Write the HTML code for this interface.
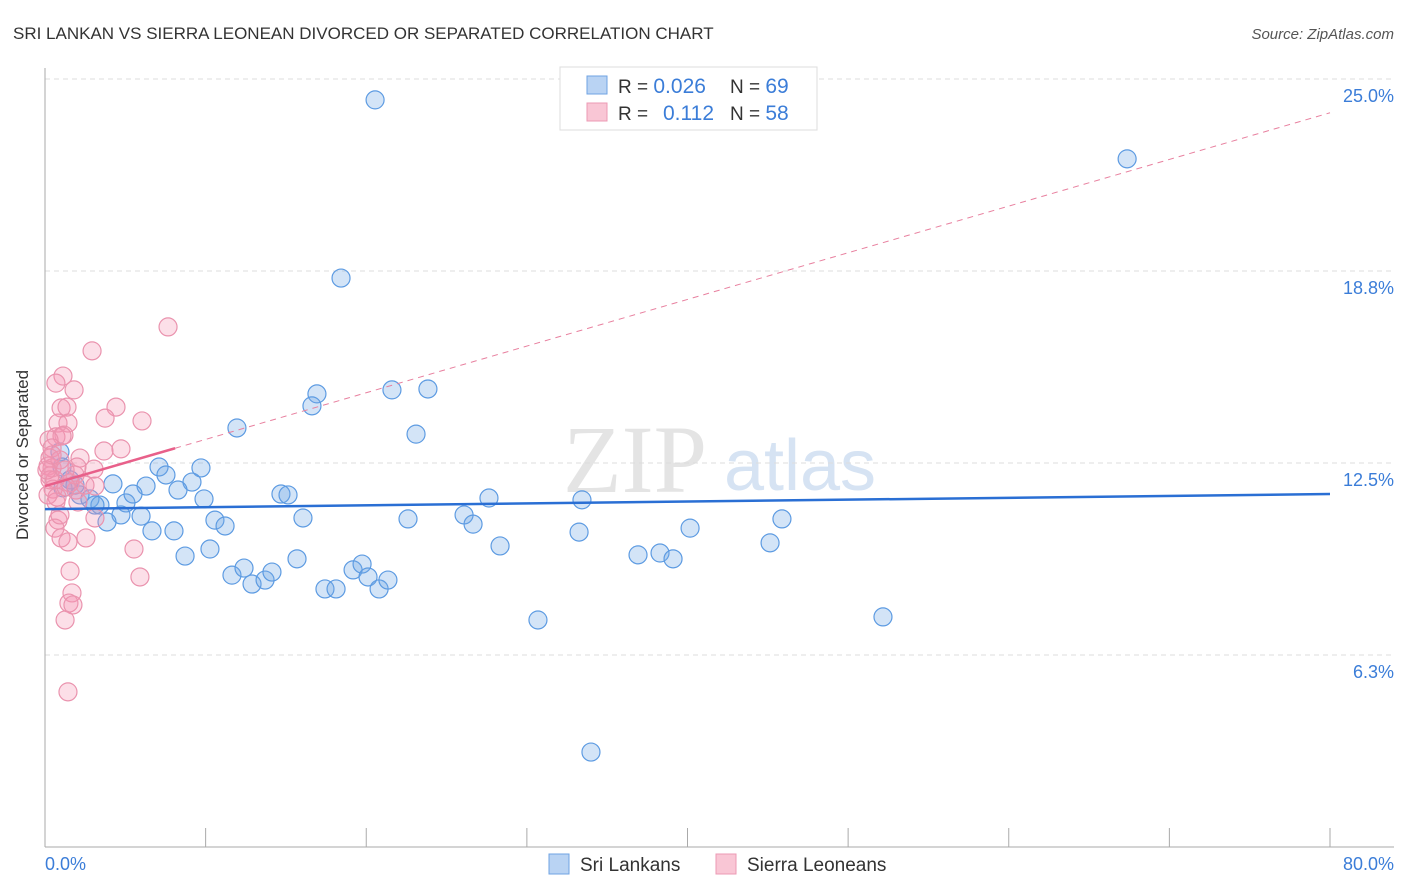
<!DOCTYPE html>
<html><head><meta charset="utf-8"><style>
body{margin:0;background:#fff;font-family:"Liberation Sans",sans-serif;}
svg{display:block}
</style></head><body>
<svg id="chart" width="1406" height="892">
<text x="13" y="39" font-size="17" fill="#333">SRI LANKAN VS SIERRA LEONEAN DIVORCED OR SEPARATED CORRELATION CHART</text>
<text x="1394" y="39" font-size="15" fill="#555" text-anchor="end" font-style="italic">Source: ZipAtlas.com</text>
<g id="watermark">
<text x="635" y="492" font-size="96" fill="#e4e4e4" font-family="Liberation Serif,serif" text-anchor="middle">ZIP</text>
<text x="800" y="490" font-size="72" fill="#d6e3f3" text-anchor="middle">atlas</text>
</g>
<g id="grid"></g><g id="axes"></g><g id="points"></g><g id="lines"></g>
<text x="28" y="455" font-size="17" fill="#333" text-anchor="middle" transform="rotate(-90 28 455)">Divorced or Separated</text>
<text x="45" y="870" font-size="18" fill="#3b7dd8">0.0%</text>
<text x="1394" y="870" font-size="18" fill="#3b7dd8" text-anchor="end">80.0%</text>
<g>
<rect x="560" y="67" width="257" height="63" fill="#fff" stroke="#ddd"/>
<rect x="587" y="76" width="20" height="18" fill="#b9d3f3" stroke="#6fa3e3"/>
<rect x="587" y="103" width="20" height="18" fill="#f9c6d5" stroke="#ec9ab4"/>
<text x="618" y="93" font-size="19" fill="#333">R = <tspan fill="#3b7dd8" font-size="21">0.026</tspan><tspan x="730">N = </tspan><tspan fill="#3b7dd8" font-size="21">69</tspan></text>
<text x="618" y="120" font-size="19" fill="#333">R = <tspan x="663" fill="#3b7dd8" font-size="21">0.112</tspan><tspan x="730">N = </tspan><tspan fill="#3b7dd8" font-size="21">58</tspan></text>
</g>
<g>
<rect x="549" y="854" width="20" height="20" fill="#b9d3f3" stroke="#6fa3e3"/>
<text x="580" y="871" font-size="19" fill="#333">Sri Lankans</text>
<rect x="716" y="854" width="20" height="20" fill="#f9c6d5" stroke="#ec9ab4"/>
<text x="747" y="871" font-size="19" fill="#333">Sierra Leoneans</text>
</g>
</svg>
<script>
const yTicks=[25,18.75,12.5,6.25];
const yTickLabels=["25.0%","18.8%","12.5%","6.3%"];
const xTicks=[10,20,30,40,50,60,70,80];
const blueX=[20.55,67.37,18.43,21.60,23.84,16.93,16.62,23.10,11.95,7.10,7.53,9.71,9.15,8.28,6.29,4.23,0.93,1.06,1.12,2.18,2.80,3.42,5.04,5.48,4.73,3.86,5.98,6.66,8.03,9.90,10.58,11.21,14.69,15.13,16.06,8.72,10.27,11.64,12.39,12.89,13.70,14.13,15.69,17.43,18.12,19.18,19.74,20.11,20.80,21.35,22.60,26.09,26.65,27.64,28.33,30.69,33.25,33.43,33.99,36.92,38.29,39.10,40.16,45.14,45.88,52.17,1.56,1.87,3.11];
const blueY=[24.32,22.40,18.52,14.88,14.91,14.75,14.36,13.44,13.64,12.37,12.11,12.34,11.88,11.62,11.75,11.82,12.86,12.37,11.69,11.46,11.33,11.13,11.20,11.49,10.81,10.58,10.77,10.29,10.29,11.33,10.64,10.45,11.49,11.46,10.71,9.47,9.70,8.85,9.08,8.56,8.69,8.95,9.38,8.40,8.40,9.02,9.21,8.79,8.40,8.69,10.68,10.81,10.51,11.36,9.80,7.39,10.25,11.30,3.09,9.51,9.57,9.38,10.38,9.90,10.68,7.49,11.95,11.78,11.13];
const pinkX=[7.66,2.93,1.12,0.68,1.81,1.00,1.37,4.42,3.74,6.04,0.81,1.43,1.18,0.68,1.06,0.25,0.44,4.73,3.67,0.31,2.18,3.05,1.99,0.19,0.44,0.31,0.62,0.50,1.56,3.11,1.93,2.05,0.68,3.11,0.81,0.62,1.00,2.55,1.43,5.54,5.91,1.56,1.68,1.49,1.74,1.25,1.43,0.31,0.19,0.93,1.87,2.49,0.12,0.44,1.25,0.75,0.93,1.31];
const pinkY=[16.93,16.15,15.33,15.10,14.88,14.29,14.32,14.32,13.96,13.87,13.80,13.80,13.41,13.35,13.38,13.25,12.99,12.96,12.89,12.66,12.66,12.30,12.37,12.40,12.34,12.08,11.95,11.65,11.85,11.75,11.62,11.23,11.23,10.71,10.64,10.38,10.06,10.06,9.93,9.70,8.79,8.98,8.27,7.94,7.88,7.39,5.05,11.95,11.46,12.60,12.11,11.78,12.27,12.76,12.27,11.39,10.81,11.72];
const blueTrend=[11.0,11.49];
const pinkTrend=[11.75,23.9];
const pinkSolidEnd=8.1;
const NS="http://www.w3.org/2000/svg";
const sx=v=>45+v*(1285/80);
const sy=v=>847-v*(768/25);
function mk(tag,attrs,parent){const e=document.createElementNS(NS,tag);for(const k in attrs)e.setAttribute(k,attrs[k]);parent.appendChild(e);return e;}
const grid=document.getElementById('grid'),axes=document.getElementById('axes'),pts=document.getElementById('points'),lines=document.getElementById('lines');
yTicks.forEach((t,i)=>{
 const l=mk('line',{x1:45,x2:1394,y1:sy(t),y2:sy(t),stroke:'#ddd','stroke-dasharray':'5,4'},grid);
 
 
 const tx=mk('text',{x:1394,y:sy(t)+23,'font-size':18,fill:'#3b7dd8','text-anchor':'end'},grid);
 tx.textContent=yTickLabels[i];
 
 
});
const ya=mk('line',{x1:45,x2:45,y1:68,y2:847,stroke:'#aaa'},axes);


const xa=mk('line',{x1:45,x2:1394,y1:847,y2:847,stroke:'#aaa'},axes);


xTicks.forEach(t=>{
 const l=mk('line',{x1:sx(t),x2:sx(t),y1:828,y2:847,stroke:'#aaa'},axes);
 
 
});
blueX.forEach((x,i)=>{
 const c=mk('circle',{cx:sx(x),cy:sy(blueY[i]),r:9,fill:'rgba(110,165,230,0.3)',stroke:'#5d9be2','stroke-width':1.2},pts);
 
 
});
pinkX.forEach((x,i)=>{
 const c=mk('circle',{cx:sx(x),cy:sy(pinkY[i]),r:9,fill:'rgba(245,150,180,0.3)',stroke:'#ea93ae','stroke-width':1.2},pts);
 
 
});
const bl=mk('line',{x1:sx(0),y1:sy(blueTrend[0]),x2:sx(80),y2:sy(blueTrend[1]),stroke:'#2a6fd4','stroke-width':2.5},lines);


const pAt=x=>pinkTrend[0]+(pinkTrend[1]-pinkTrend[0])*x/80;
const pd=mk('line',{x1:sx(pinkSolidEnd),y1:sy(pAt(pinkSolidEnd)),x2:sx(80),y2:sy(pinkTrend[1]),stroke:'#e8809f','stroke-width':1,'stroke-dasharray':'6,5'},lines);


const ps=mk('line',{x1:sx(0),y1:sy(pinkTrend[0]),x2:sx(pinkSolidEnd),y2:sy(pAt(pinkSolidEnd)),stroke:'#e8608a','stroke-width':2.5},lines);


</script>
</body></html>
